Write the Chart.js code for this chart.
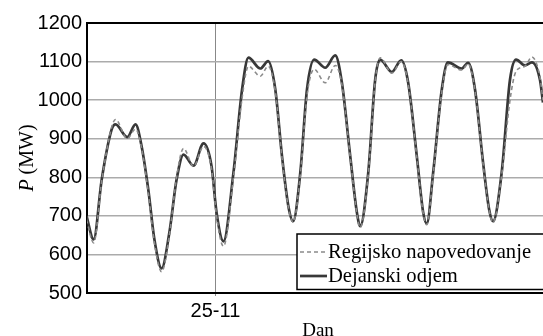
<!DOCTYPE html>
<html>
<head>
<meta charset="utf-8">
<script src="https://cdn.jsdelivr.net/npm/chart.js@4/dist/chart.umd.min.js"></script>
<style>
html,body{margin:0;padding:0;background:#fff;overflow:hidden;}
canvas{display:block;}
</style>
</head>
<body>
<canvas id="c" width="543" height="336"></canvas>
<script>
// Hours relative to 25-11 00:00
const hours = [-46.5, -43.9, -41, -37.4, -36, -31.8, -28.8, -26.6, -24.2, -22, -19.4, -16.6, -14, -11.5, -7.9, -4.3, -1.4, 0.4, 2.9, 6.5, 9.6, 11.9, 16.2, 19, 21.6, 24, 26.3, 28, 30.6, 33, 35.6, 39.6, 43.2, 45.6, 48.6, 51, 52.2, 55.1, 57.6, 59.4, 63.6, 67, 69.5, 72.6, 74.9, 76.2, 78.5, 81.6, 83.8, 88.8, 91.1, 93.6, 96.5, 98.7, 100.1, 103.2, 106.2, 108.4, 111.6, 114.1, 117, 118.1];
const actual = [700, 639, 794, 924, 937, 904, 937, 880, 768, 639, 564, 657, 794, 859, 830, 888, 829, 709, 634, 812, 1027, 1110, 1082, 1101, 1027, 855, 725, 686, 812, 1027, 1105, 1084, 1116, 1045, 855, 709, 673, 812, 1053, 1105, 1073, 1103, 1045, 855, 709, 680, 812, 1027, 1098, 1082, 1097, 1027, 838, 716, 686, 812, 1053, 1105, 1090, 1098, 1053, 994];
const forecast = [690, 630, 790, 930, 950, 900, 925, 875, 760, 630, 555, 650, 800, 875, 828, 880, 822, 700, 621, 800, 1005, 1088, 1062, 1088, 1022, 850, 722, 684, 805, 1010, 1080, 1045, 1090, 1040, 852, 705, 670, 808, 1050, 1110, 1070, 1100, 1042, 852, 706, 677, 808, 1020, 1092, 1078, 1094, 1024, 834, 714, 683, 805, 1000, 1075, 1088, 1112, 1060, 1000];
const xTicks = [0];
const xTickLabels = ['25-11'];
const seriesNames = ['Regijsko napovedovanje', 'Dejanski odjem'];
const yTitleItalic = 'P';
const yTitleRest = ' (MW)';
const xTitle = 'Dan';

const toPts = arr => arr.map((v, i) => ({x: hours[i], y: v}));
const SERIF = '"Liberation Serif", "Times New Roman", serif';

const overlay = {
  id: 'overlay',
  afterDraw(chart) {
    const ctx = chart.ctx;
    ctx.save();
    // y title
    ctx.fillStyle = '#000';
    ctx.translate(33, 158);
    ctx.rotate(-Math.PI / 2);
    ctx.textBaseline = 'alphabetic';
    ctx.font = 'italic 20px ' + SERIF;
    const w1 = ctx.measureText(yTitleItalic).width;
    ctx.font = '20px ' + SERIF;
    const w2 = ctx.measureText(yTitleRest).width;
    const start = -(w1 + w2) / 2;
    ctx.font = 'italic 20px ' + SERIF;
    ctx.textAlign = 'left';
    ctx.fillText(yTitleItalic, start, 0);
    ctx.font = '20px ' + SERIF;
    ctx.fillText(yTitleRest, start + w1, 0);
    ctx.restore();

    // x title
    ctx.save();
    ctx.fillStyle = '#000';
    ctx.font = '19px ' + SERIF;
    ctx.textAlign = 'center';
    ctx.textBaseline = 'alphabetic';
    ctx.fillText(xTitle, 318, 335.5);
    ctx.restore();

    // legend
    ctx.save();
    ctx.fillStyle = '#fff';
    ctx.fillRect(297, 234, 260, 55.5);
    ctx.strokeStyle = '#000';
    ctx.lineWidth = 1.5;
    ctx.strokeRect(297, 234, 260, 55.5);
    const ds = chart.data.datasets;
    const rows = [252, 276];
    ds.forEach((d, i) => {
      ctx.beginPath();
      ctx.strokeStyle = d.borderColor;
      ctx.lineWidth = d.borderWidth;
      ctx.setLineDash(d.borderDash || []);
      ctx.moveTo(300, rows[i]);
      ctx.lineTo(327, rows[i]);
      ctx.stroke();
      ctx.setLineDash([]);
      ctx.fillStyle = '#000';
      ctx.font = '20.6px ' + SERIF;
      ctx.textAlign = 'left';
      ctx.textBaseline = 'middle';
      ctx.fillText(d.label, 328, rows[i] + 1);
    });
    ctx.restore();
  }
};

new Chart(document.getElementById('c'), {
  type: 'line',
  data: {
    datasets: [
      {
        label: seriesNames[0],
        data: toPts(forecast),
        borderColor: '#8a8a8a',
        borderWidth: 1.6,
        borderDash: [4, 3],
        pointRadius: 0,
        cubicInterpolationMode: 'monotone',
        fill: false
      },
      {
        label: seriesNames[1],
        data: toPts(actual),
        borderColor: '#383838',
        borderWidth: 2.7,
        pointRadius: 0,
        cubicInterpolationMode: 'monotone',
        fill: false
      }
    ]
  },
  options: {
    responsive: false,
    animation: false,
    devicePixelRatio: 1,
    layout: { padding: { top: 23, right: 0, bottom: 0, left: 0 } },
    plugins: { legend: { display: false }, tooltip: { enabled: false }, title: { display: false } },
    scales: {
      x: {
        type: 'linear',
        min: -46.3,
        max: 118.1,
        afterBuildTicks: s => { s.ticks = xTicks.map(v => ({ value: v })); },
        afterFit: s => { s.height = 43; },
        ticks: {
          autoSkip: false,
          maxRotation: 0,
          padding: 3,
          color: '#000',
          font: { family: '"Liberation Sans", Arial, sans-serif', size: 20 },
          callback: (v) => { const i = xTicks.indexOf(v); return i >= 0 ? xTickLabels[i] : ''; }
        },
        grid: { color: '#888', lineWidth: 1, drawTicks: true, tickLength: 3 },
        border: { display: true, color: '#000', width: 2 }
      },
      y: {
        min: 500,
        max: 1200,
        afterFit: s => { s.width = 87; },
        ticks: {
          stepSize: 100,
          padding: 5,
          color: '#000',
          font: { family: '"Liberation Sans", Arial, sans-serif', size: 20 },
          callback: v => String(v)
        },
        grid: {
          drawTicks: false,
          color: c => (c.tick && c.tick.value === 1200) ? '#000' : '#ababab',
          lineWidth: c => (c.tick && c.tick.value === 1200) ? 2 : 1.5
        },
        border: { display: true, color: '#000', width: 2 }
      }
    }
  },
  plugins: [overlay]
});
</script>
</body>
</html>
